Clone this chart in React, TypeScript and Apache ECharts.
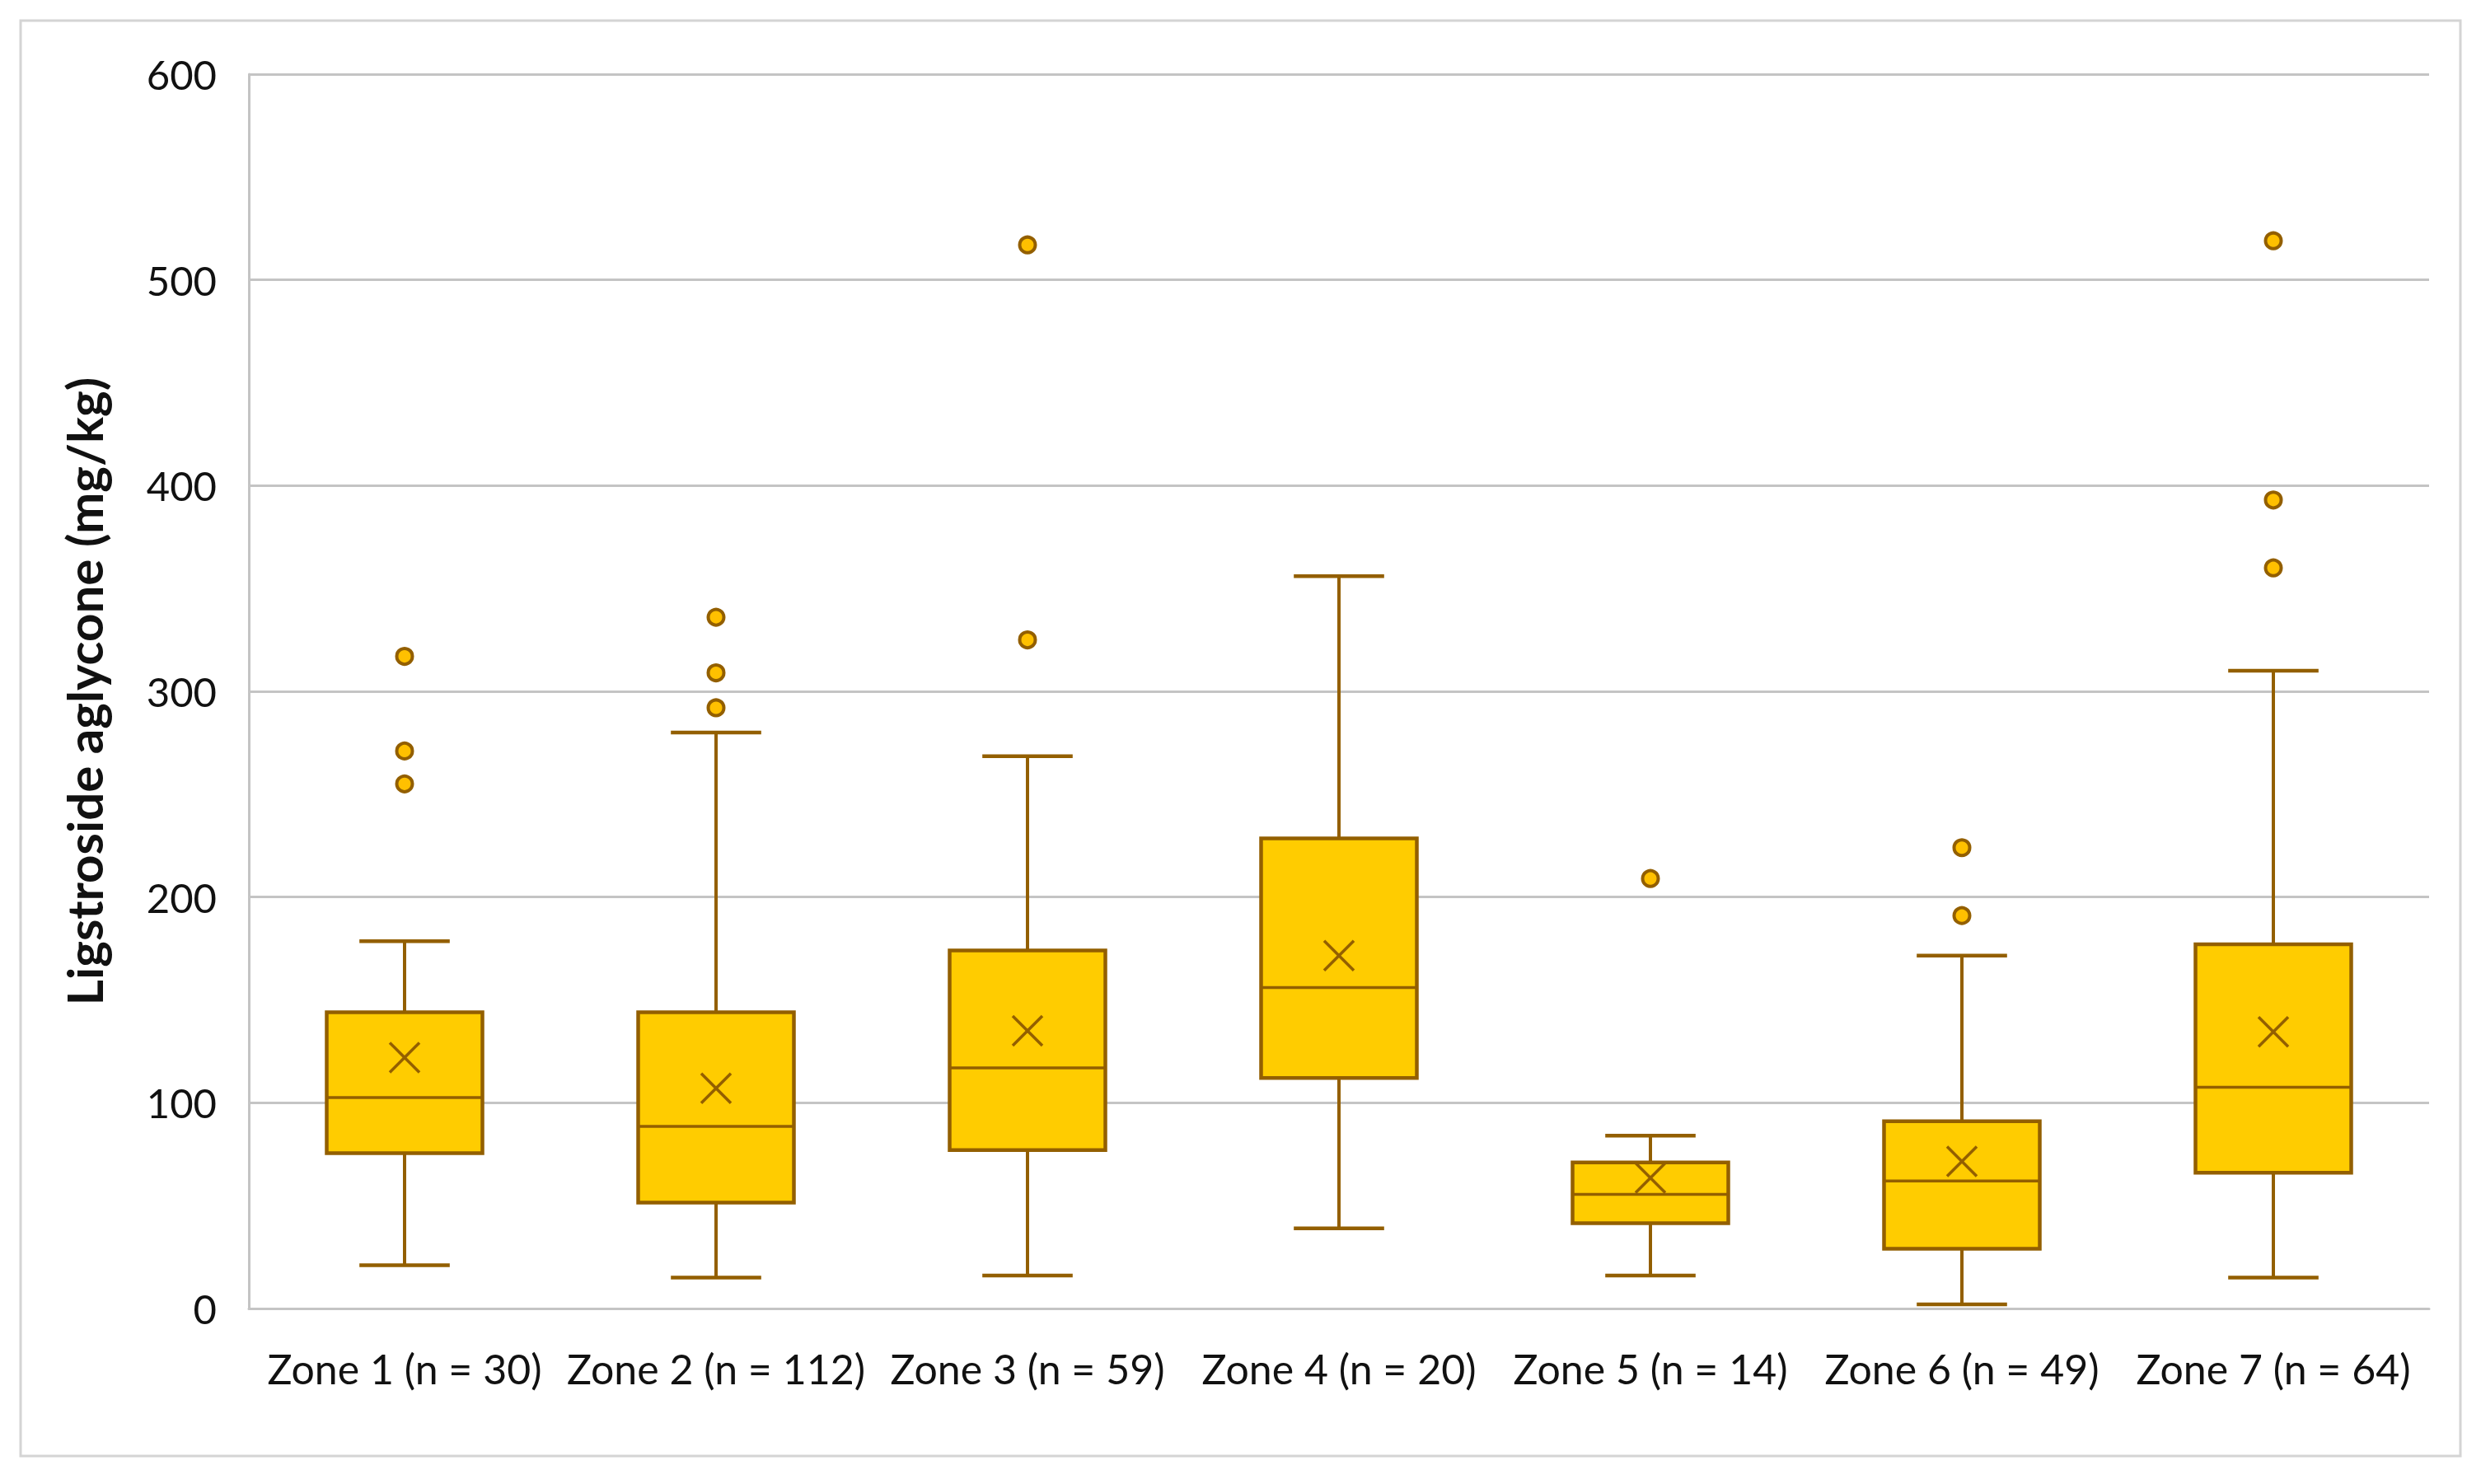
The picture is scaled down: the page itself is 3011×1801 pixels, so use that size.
import React, { useEffect, useRef } from "react";
import * as echarts from "echarts";

const categories = [
  "Zone 1 (n = 30)",
  "Zone 2 (n = 112)",
  "Zone 3 (n = 59)",
  "Zone 4 (n = 20)",
  "Zone 5 (n = 14)",
  "Zone 6 (n = 49)",
  "Zone 7 (n = 64)",
];
const whiskerLow = [21, 15, 16, 39, 16, 2, 15];
const q1 = [75.5, 51.5, 77, 112, 41.5, 29, 66];
const median = [102.5, 88.5, 117, 156, 55.5, 62, 107.5];
const q3 = [144, 144, 174, 228.5, 71, 91, 177];
const whiskerHigh = [178.5, 280, 268.5, 356, 84, 171.5, 310];
const means = [122, 107, 135, 171.5, 63.5, 71.5, 134.5];
const outliers: [number, number][] = [
  [0, 317], [0, 271], [0, 255],
  [1, 336], [1, 309], [1, 292],
  [2, 517], [2, 325],
  [4, 209],
  [5, 224], [5, 191],
  [6, 519], [6, 393], [6, 360],
];
const yTicks = { min: 0, max: 600, interval: 100 };
const yTitle = "Ligstroside aglycone (mg/kg)";

const STROKE = "#935F00";
const FILL = "#FFCC00";
const FONT = "Lato";

export default function App() {
  const ref = useRef<HTMLDivElement>(null);
  useEffect(() => {
    if (!ref.current) return;
    const chart = echarts.init(ref.current, undefined, { renderer: "svg" });
    const boxData = categories.map((_, i) => [
      i, whiskerLow[i], q1[i], median[i], q3[i], whiskerHigh[i], means[i],
    ]);
    const renderItem = (params: any, api: any) => {
      const x = api.value(0);
      const band = api.size([1, 0])[0];
      const bw = band * 0.5;
      const cw = bw * 0.29;
      const pMin = api.coord([x, api.value(1)]);
      const pQ1 = api.coord([x, api.value(2)]);
      const pMed = api.coord([x, api.value(3)]);
      const pQ3 = api.coord([x, api.value(4)]);
      const pMax = api.coord([x, api.value(5)]);
      const pMean = api.coord([x, api.value(6)]);
      const cx = pMed[0];
      const ls = { stroke: STROKE, lineWidth: 4 };
      const m = 18;
      return {
        type: "group",
        children: [
          { type: "line", shape: { x1: cx, y1: pMax[1], x2: cx, y2: pQ3[1] }, style: ls },
          { type: "line", shape: { x1: cx, y1: pQ1[1], x2: cx, y2: pMin[1] }, style: ls },
          { type: "line", shape: { x1: cx - cw, y1: pMax[1], x2: cx + cw, y2: pMax[1] }, style: { ...ls, lineWidth: 4.5 } },
          { type: "line", shape: { x1: cx - cw, y1: pMin[1], x2: cx + cw, y2: pMin[1] }, style: { ...ls, lineWidth: 4.5 } },
          {
            type: "rect",
            shape: { x: cx - bw / 2, y: pQ3[1], width: bw, height: pQ1[1] - pQ3[1] },
            style: { fill: FILL, stroke: STROKE, lineWidth: 4.5 },
          },
          { type: "line", shape: { x1: cx - bw / 2, y1: pMed[1], x2: cx + bw / 2, y2: pMed[1] }, style: { ...ls, lineWidth: 3.5 } },
          { type: "line", shape: { x1: cx - m, y1: pMean[1] - m, x2: cx + m, y2: pMean[1] + m }, style: { ...ls, lineWidth: 3.5 } },
          { type: "line", shape: { x1: cx - m, y1: pMean[1] + m, x2: cx + m, y2: pMean[1] - m }, style: { ...ls, lineWidth: 3.5 } },
        ],
      };
    };
    chart.setOption({
      animation: false,
      backgroundColor: "#ffffff",
      graphic: [
        {
          type: "rect",
          shape: { x: 25, y: 25, width: 2961, height: 1742 },
          style: { fill: "none", stroke: "#D4D4D4", lineWidth: 3 },
          z: -10,
        },
      ],
      grid: { left: 302, right: 63, top: 90, bottom: 213, containLabel: false },
      xAxis: {
        type: "category",
        data: categories,
        axisLine: { show: true, lineStyle: { color: "#C4C4C4", width: 3 } },
        axisTick: { show: false },
        splitLine: { show: false },
        axisLabel: { interval: 0, color: "#111111", fontFamily: FONT, fontSize: 50, margin: 48 },
      },
      yAxis: {
        type: "value",
        min: yTicks.min,
        max: yTicks.max,
        interval: yTicks.interval,
        name: yTitle,
        nameLocation: "middle",
        nameGap: 170,
        nameTextStyle: { color: "#111111", fontFamily: FONT, fontSize: 60, fontWeight: "bold" },
        axisLine: { show: true, lineStyle: { color: "#C4C4C4", width: 3 } },
        axisTick: { show: false },
        splitLine: { show: true, lineStyle: { color: "#C4C4C4", width: 3 } },
        axisLabel: { color: "#111111", fontFamily: FONT, fontSize: 49, margin: 39 },
      },
      series: [
        {
          type: "custom",
          renderItem,
          data: boxData,
          encode: { x: 0, y: [1, 2, 3, 4, 5, 6] },
          z: 2,
        },
        {
          type: "scatter",
          data: outliers,
          symbol: "circle",
          symbolSize: 19,
          itemStyle: { color: "#FFC000", borderColor: STROKE, borderWidth: 4, opacity: 1 },
          z: 3,
        },
      ],
    });
    return () => chart.dispose();
  }, []);
  return (
    <div
      ref={ref}
      style={{ position: "fixed", left: 0, top: 0, width: 3011, height: 1801, background: "#fff" }}
    />
  );
}
